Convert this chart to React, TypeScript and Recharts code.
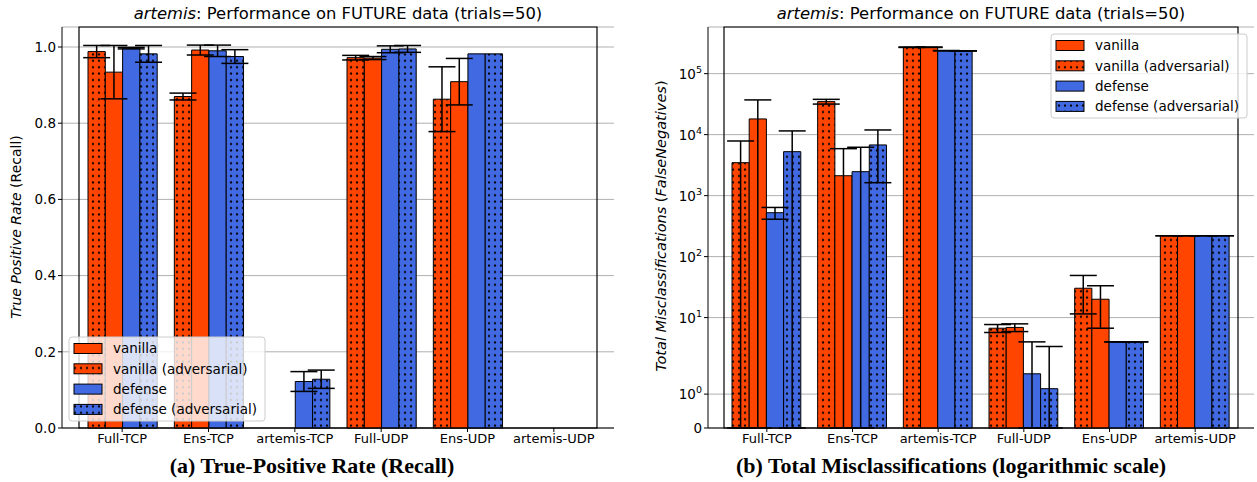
import React from 'react';
import { BarChart, Bar, XAxis, YAxis, CartesianGrid, ErrorBar, ReferenceArea } from 'recharts';

const categories = ['Full-TCP', 'Ens-TCP', 'artemis-TCP', 'Full-UDP', 'Ens-UDP', 'artemis-UDP'];

// (a) recall, mean and std per series
const recallVanillaAdv = [0.988, 0.870, 0, 0.972, 0.863, 0];
const recallVanillaAdvErr = [0.016, 0.009, 0, 0.006, 0.085, 0];
const recallVanilla = [0.934, 0.992, 0, 0.971, 0.909, 0];
const recallVanillaErr = [0.07, 0.013, 0, 0.004, 0.061, 0];
const recallDefense = [0.997, 0.990, 0.122, 0.994, 0.982, 0];
const recallDefenseErr = [0.002, 0.015, 0.026, 0.009, 0, 0];
const recallDefenseAdv = [0.982, 0.975, 0.128, 0.995, 0.982, 0];
const recallDefenseAdvErr = [0.022, 0.018, 0.024, 0.009, 0, 0];

// (b) false negatives, mean and std per series
const fnVanillaAdv = [3470, 34800, 271000, 6.7, 30.3, 220];
const fnVanillaAdvErr = [4400, 3100, 2000, 1.0, 18.8, 0];
const fnVanilla = [18100, 2120, 271000, 6.9, 20, 220];
const fnVanillaErr = [19000, 3770, 2000, 1.0, 13.3, 0];
const fnDefense = [525, 2470, 238000, 1.6, 4.0, 220];
const fnDefenseErr = [115, 3740, 1500, 2.4, 0, 0];
const fnDefenseAdv = [5260, 6780, 236000, 1.16, 4.0, 220];
const fnDefenseAdvErr = [6250, 5150, 1500, 2.2, 0, 0];

const recallTicks = [0, 0.2, 0.4, 0.6, 0.8, 1.0];
const fnTicks = [0, 1, 10, 100, 1000, 10000, 100000];
const fnTickLabels = ['0', '0', '1', '2', '3', '4', '5'];

const ORANGE = '#FF4500';
const BLUE = '#4169E1';
const FONT = '"DejaVu Sans", sans-serif';

// symlog like matplotlib (linthresh 2, linscale 1)
const LT = 2;
const ADJ = 1 / (1 - 1 / 10);
const symlog = (v: number) => (v <= LT ? v * ADJ : LT * (ADJ + Math.log10(v / LT)));
const symErr = (v: number, e: number) => [
  symlog(v) - symlog(Math.max(0, v - e)),
  symlog(v + e) - symlog(v),
];

const recallData = categories.map((name, i) => ({
  name,
  va: recallVanillaAdv[i], vaErr: recallVanillaAdvErr[i],
  v: recallVanilla[i], vErr: recallVanillaErr[i],
  d: recallDefense[i], dErr: recallDefenseErr[i],
  da: recallDefenseAdv[i], daErr: recallDefenseAdvErr[i],
}));

const fnData = categories.map((name, i) => ({
  name,
  va: symlog(fnVanillaAdv[i]), vaErr: symErr(fnVanillaAdv[i], fnVanillaAdvErr[i]),
  v: symlog(fnVanilla[i]), vErr: symErr(fnVanilla[i], fnVanillaErr[i]),
  d: symlog(fnDefense[i]), dErr: symErr(fnDefense[i], fnDefenseErr[i]),
  da: symlog(fnDefenseAdv[i]), daErr: symErr(fnDefenseAdv[i], fnDefenseAdvErr[i]),
}));

const fnTickPos = fnTicks.map(symlog);
const FN_MAX = 13.15;
const RECALL_MAX = 1.0525;

const LogTick = (props: any) => {
  const { x, y, payload } = props;
  const i = fnTickPos.findIndex((p) => Math.abs(p - payload.value) < 1e-6);
  return (
    <text x={x} y={y} dy={5} textAnchor="end" fontSize={13.5} fill="#000" fontFamily={FONT}>
      {i === 0 ? '0' : (
        <>
          10<tspan dy={-6} fontSize={9.5}>{fnTickLabels[i]}</tspan>
        </>
      )}
    </text>
  );
};

const series = [
  { key: 'va', fill: 'url(#dotOrange)' },
  { key: 'v', fill: ORANGE },
  { key: 'd', fill: BLUE },
  { key: 'da', fill: 'url(#dotBlue)' },
];

const legendItems = [
  { label: 'vanilla', fill: ORANGE },
  { label: 'vanilla (adversarial)', fill: 'url(#dotOrange)' },
  { label: 'defense', fill: BLUE },
  { label: 'defense (adversarial)', fill: 'url(#dotBlue)' },
];

const LegendBox = ({ x, y }: { x: number; y: number }) => (
  <g>
    <rect x={x} y={y} width={196} height={84} rx={3} fill="rgba(255,255,255,0.8)" stroke="#cccccc" />
    {legendItems.map((it, i) => (
      <g key={it.label}>
        <rect x={x + 5} y={y + 6.5 + i * 20.3} width={28} height={10} fill={it.fill} stroke="#000" />
        <text x={x + 44} y={y + 16.2 + i * 20.3} fontSize={13.5} fontFamily={FONT} fill="#000">{it.label}</text>
      </g>
    ))}
  </g>
);

const renderBars = () =>
  series.map((s) => (
    <Bar key={s.key} dataKey={s.key} fill={s.fill} stroke="#000" strokeWidth={1} isAnimationActive={false}>
      <ErrorBar dataKey={s.key + 'Err'} width={13.5} stroke="#000" strokeWidth={1.5} />
    </Bar>
  ));

const App: React.FC = () => {
  return (
    <div style={{ position: 'absolute', left: 0, top: 0, width: 1257, height: 482, background: '#fff' }}>
      <svg width={0} height={0} style={{ position: 'absolute' }}>
        <defs>
          <pattern id="dotOrange" patternUnits="userSpaceOnUse" width={6} height={6.4}>
            <rect width={6} height={6.4} fill={ORANGE} />
            <circle cx={3} cy={3.2} r={1.1} fill="#000" />
          </pattern>
          <pattern id="dotBlue" patternUnits="userSpaceOnUse" width={6} height={6.4}>
            <rect width={6} height={6.4} fill={BLUE} />
            <circle cx={3} cy={3.2} r={1.1} fill="#000" />
          </pattern>
        </defs>
      </svg>

      <div style={{ position: 'absolute', left: 0, top: 0 }}>
        <BarChart width={625} height={482} data={recallData} margin={{ top: 27, right: 11, bottom: 24, left: 22 }} barGap={0} barSize={17.3}>
          <CartesianGrid vertical={false} stroke="#b0b0b0" />
          <XAxis dataKey="name" padding={{ left: 17, right: 17 }} height={30} interval={0}
            tick={{ fontSize: 13, fill: '#000', fontFamily: FONT }} tickSize={4} stroke="#000" />
          <YAxis domain={[0, RECALL_MAX]} ticks={recallTicks} width={40} tickFormatter={(v: number) => v.toFixed(1)}
            tick={{ fontSize: 13.5, fill: '#000', fontFamily: FONT }} tickSize={4} stroke="#000" />
          {renderBars()}
          <ReferenceArea y1={0} y2={RECALL_MAX} fill="none" stroke="#000" strokeWidth={1.2} />
        </BarChart>
      </div>

      <div style={{ position: 'absolute', left: 640, top: 0 }}>
        <BarChart width={617} height={482} data={fnData} margin={{ top: 27, right: 3, bottom: 24, left: 23 }} barGap={0} barSize={17.2}>
          <CartesianGrid vertical={false} stroke="#b0b0b0" />
          <XAxis dataKey="name" padding={{ left: 16, right: 16 }} height={30} interval={0}
            tick={{ fontSize: 13, fill: '#000', fontFamily: FONT }} tickSize={4} stroke="#000" />
          <YAxis domain={[0, FN_MAX]} ticks={fnTickPos} width={45} tick={<LogTick />} tickSize={4} stroke="#000" />
          {renderBars()}
          <ReferenceArea y1={0} y2={FN_MAX} fill="none" stroke="#000" strokeWidth={1.2} />
        </BarChart>
      </div>

      <svg width={1257} height={482} style={{ position: 'absolute', left: 0, top: 0, pointerEvents: 'none' }}>
        <text x={338} y={19} textAnchor="middle" fontSize={16.4} fontFamily={FONT} fill="#000">
          <tspan fontStyle="italic">artemis</tspan>: Performance on FUTURE data (trials=50)
        </text>
        <text x={981} y={19} textAnchor="middle" fontSize={16.4} fontFamily={FONT} fill="#000">
          <tspan fontStyle="italic">artemis</tspan>: Performance on FUTURE data (trials=50)
        </text>
        <text transform="translate(21,227) rotate(-90)" textAnchor="middle" fontSize={14} fontFamily={FONT} fill="#000">
          <tspan fontStyle="italic">True Positive Rate</tspan> (Recall)
        </text>
        <text transform="translate(666,226) rotate(-90)" textAnchor="middle" fontSize={14.5} fontFamily={FONT} fill="#000">
          <tspan fontStyle="italic">Total Misclassifications</tspan> (<tspan fontStyle="italic">FalseNegatives</tspan>)
        </text>
        <LegendBox x={69} y={337} />
        <LegendBox x={1051} y={34} />
        <text x={312} y={473} textAnchor="middle" fontSize={22} fontWeight="bold" fontFamily='"Liberation Serif", serif' fill="#000">
          (a) True-Positive Rate (Recall)
        </text>
        <text x={951} y={473} textAnchor="middle" fontSize={22} fontWeight="bold" fontFamily='"Liberation Serif", serif' fill="#000">
          (b) Total Misclassifications (logarithmic scale)
        </text>
      </svg>
    </div>
  );
};

export default App;
